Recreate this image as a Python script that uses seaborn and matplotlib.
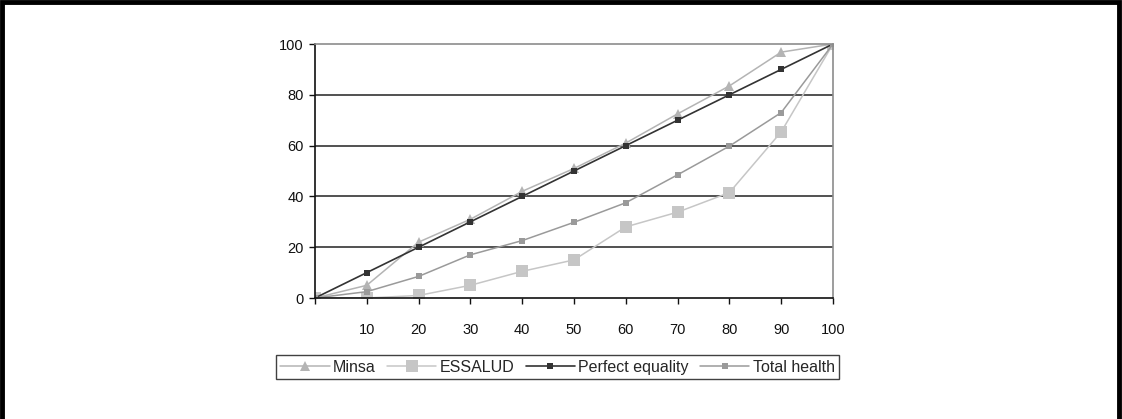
import matplotlib
matplotlib.use("Agg")
import matplotlib.pyplot as plt
import seaborn as sns
import pandas as pd
from matplotlib.patches import Rectangle

sns.set_theme(style="white")
plt.rcParams['font.family'] = ['Liberation Sans', 'DejaVu Sans']

x_pct = [0, 10, 20, 30, 40, 50, 60, 70, 80, 90, 100]
minsa = [0, 5, 22, 31, 42, 51, 61, 72.5, 83.5, 96.8, 100]
essalud = [0, 0, 1, 5, 10.5, 15, 28, 33.8, 41.5, 65.4, 100]
perfect = [0, 10, 20, 30, 40, 50, 60, 70, 80, 90, 100]
total = [0, 2.5, 8.5, 17, 22.6, 29.8, 37.5, 48.5, 59.8, 73, 100]
x_ticks = [0, 10, 20, 30, 40, 50, 60, 70, 80, 90, 100]
x_labels = ["", "10", "20", "30", "40", "50", "60", "70", "80", "90", "100"]
y_ticks = [0, 20, 40, 60, 80, 100]

series = [
    ("Minsa", minsa, dict(color="#b4b4b4", marker="^", markersize=6.5, linewidth=1.1)),
    ("ESSALUD", essalud, dict(color="#c6c6c6", marker="s", markersize=9, linewidth=1.1)),
    ("Perfect equality", perfect, dict(color="#333333", marker="s", markersize=4.5, linewidth=1.2)),
    ("Total health", total, dict(color="#9a9a9a", marker="s", markersize=4, linewidth=1.1)),
]

fig = plt.figure(figsize=(11.22, 4.19), dpi=100)
ax = fig.add_axes([315/1122, 1-298/419, (833-315)/1122, (298-44)/419])

for name, vals, st in series:
    df = pd.DataFrame({"x": x_pct, "y": vals})
    sns.lineplot(data=df, x="x", y="y", ax=ax, label=name,
                 color=st["color"], marker=st["marker"], markersize=st["markersize"],
                 linewidth=st["linewidth"], markeredgewidth=0, markerfacecolor=st["color"])

ax.set_xlim(0, 100)
ax.set_ylim(0, 100)
ax.set_xticks(x_ticks)
ax.set_xticklabels(x_labels)
ax.set_yticks(y_ticks)
ax.set_xlabel("")
ax.set_ylabel("")

for yv in y_ticks[1:-1]:
    ax.axhline(yv, color="#333333", linewidth=1.2, zorder=0)

for s in ["left", "bottom"]:
    ax.spines[s].set_color("#111111")
    ax.spines[s].set_linewidth(1.2)
for s in ["top", "right"]:
    ax.spines[s].set_color("#8c8c8c")
    ax.spines[s].set_linewidth(1.2)
    ax.spines[s].set_visible(True)
ax.tick_params(axis="both", which="both", direction="out", length=4, width=1,
               color="#111111", labelsize=10.5, labelcolor="#111111", bottom=True, left=True)
ax.tick_params(axis="x", pad=14)
ax.tick_params(axis="y", pad=4)

h, l = ax.get_legend_handles_labels()
ax.legend_.remove()
leg = fig.legend(h, l, loc="center", bbox_to_anchor=(557.5/1122, 1-367/419), ncol=4,
                 frameon=True, fancybox=False, edgecolor="#111111", fontsize=11.5,
                 handlelength=3.1, handletextpad=0.2, columnspacing=0.7,
                 borderpad=0.3, borderaxespad=0)
leg.get_frame().set_linewidth(1.0)

fig.add_artist(Rectangle((0.002, -0.1), 0.995, 1.095, transform=fig.transFigure,
                         fill=False, edgecolor="#000000", linewidth=3.5))

fig.savefig("out.png", dpi=100, facecolor="white")
